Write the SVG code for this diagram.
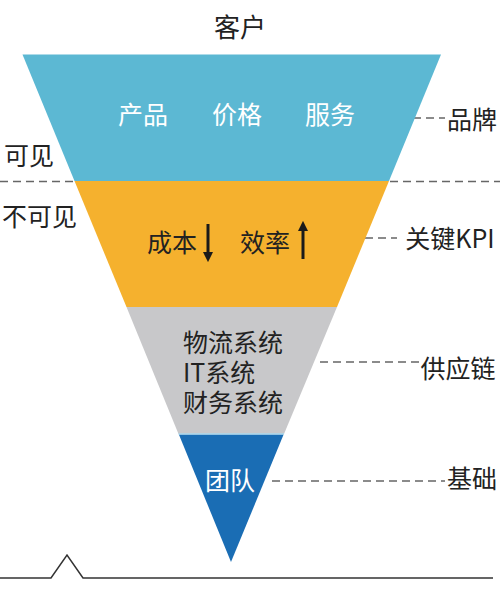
<svg xmlns="http://www.w3.org/2000/svg" width="500" height="593" viewBox="0 0 500 593">
<defs>
<style>
text{font-family:"Noto Sans CJK SC","Noto Sans",sans-serif;font-size:25px;fill:#222}
.w{fill:#fff}
.dash{stroke:#666;stroke-width:1.3;stroke-dasharray:8 5;fill:none}
.arr{stroke:#1a1a1a;stroke-width:3;fill:none}
</style>
<marker id="ah" viewBox="0 0 10 10" refX="5" refY="5" markerWidth="3.4" markerHeight="3.4" orient="auto-start-reverse" markerUnits="strokeWidth">
<path d="M0,0 L10,5 L0,10 z" fill="#1a1a1a"/>
</marker>
</defs>
<rect width="500" height="593" fill="#fff"/>
<text x="240" y="37" text-anchor="middle" style="font-size:26px">客户</text>
<g id="connectors">
<line class="dash" x1="0" y1="181.5" x2="74" y2="181.5"/>
<line class="dash" x1="390" y1="181.5" x2="500" y2="181.5"/>
<line class="dash" x1="413" y1="118" x2="445" y2="118"/>
<line class="dash" x1="365" y1="238" x2="397" y2="238"/>
<line class="dash" x1="320" y1="362" x2="421" y2="362"/>
<line class="dash" x1="272" y1="481" x2="445" y2="481"/>
</g>
<g id="brand-band">
<polygon points="22.5,54.5 441,54.5 389,181 74.5,181" fill="#5cb8d3"/>
<text class="w" x="143" y="124" text-anchor="middle">产品</text>
<text class="w" x="237" y="124" text-anchor="middle">价格</text>
<text class="w" x="330" y="124" text-anchor="middle">服务</text>
</g>
<g id="kpi-band">
<polygon points="74.5,181 389,181 337,307 126.5,307" fill="#f5b12e"/>
<text x="172" y="252" text-anchor="middle">成本</text>
<line class="arr" x1="208" y1="224" x2="208" y2="257" marker-end="url(#ah)"/>
<text x="265" y="252" text-anchor="middle">效率</text>
<line class="arr" x1="303" y1="259" x2="303" y2="226" marker-end="url(#ah)"/>
</g>
<g id="supply-band">
<polygon points="126.5,307 337,307 284,434 178.5,434" fill="#c8c8ca"/>
<line x1="178.5" y1="434" x2="284" y2="434" stroke="#a8d8ee" stroke-width="1.5"/>
<text x="183" y="352">物流系统<tspan x="183" dy="30">IT系统</tspan><tspan x="183" dy="30">财务系统</tspan></text>
</g>
<g id="team-band">
<polygon points="179,434.8 283.5,434.8 231,562" fill="#1a6db4"/>
<text class="w" x="230" y="490" text-anchor="middle">团队</text>
</g>
<g id="labels">
<text x="472" y="129" text-anchor="middle">品牌</text>
<text x="4" y="165">可见</text>
<text x="2" y="226">不可见</text>
<text x="450" y="248" text-anchor="middle">关键KPI</text>
<text x="458" y="378" text-anchor="middle">供应链</text>
<text x="472" y="488" text-anchor="middle">基础</text>
</g>
<polyline points="0,578 51,578 67,555 83,578 493,578" fill="none" stroke="#333" stroke-width="1.5"/>
</svg>
